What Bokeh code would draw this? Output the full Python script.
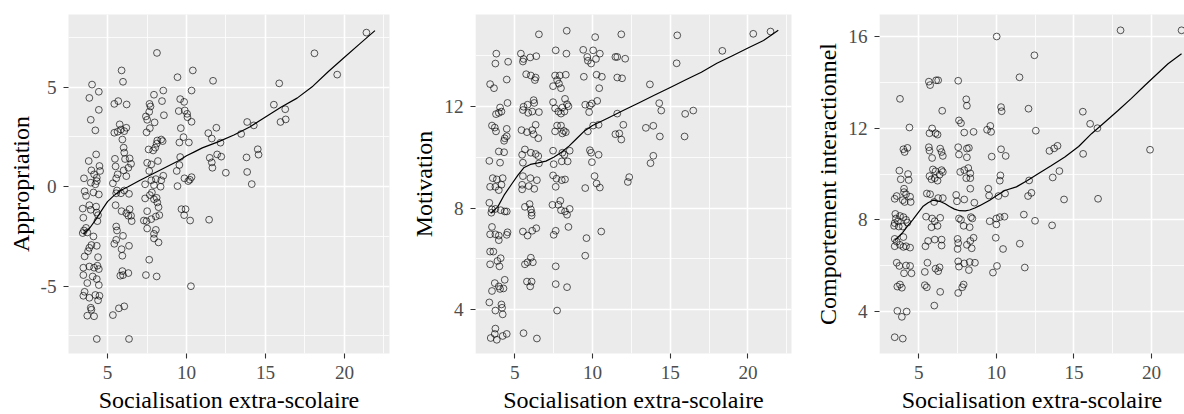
from bokeh.plotting import figure
from bokeh.layouts import row
from bokeh.models import Range1d, SingleIntervalTicker
from bokeh.embed import file_html
from bokeh.resources import INLINE

FONT = "Liberation Serif"
X_TITLE = "Socialisation extra-scolaire"

# ---------------- Panel 1 : Appropriation ----------------
x1 = [8.13, 5.89, 5.98, 9.43, 10.40, 11.68, 4.02, 3.85, 4.45, 4.45, 3.94, 4.23, 5.43, 5.68, 6.21, 7.66, 7.72, 7.94,
      8.45, 8.53, 8.57, 7.64, 7.43, 7.51, 7.98, 7.68, 7.47, 9.60, 9.85, 9.51, 9.89, 10.04, 10.06, 10.32, 10.32, 9.64,
      11.38, 11.60, 11.89, 5.77, 5.64, 5.85, 6.06, 6.19, 5.43, 5.94, 6.02, 6.06, 5.47, 6.11, 6.40, 6.49, 6.32, 6.02,
      5.51, 6.19, 5.64, 5.55, 5.34, 4.28, 3.81, 4.49, 3.98, 4.15, 4.53, 4.32, 3.51, 3.94, 4.23, 4.32, 8.15, 8.40,
      8.49, 8.11, 7.60, 7.89, 8.02, 7.51, 7.77, 8.19, 7.64, 7.77, 8.06, 8.40, 8.53, 7.94, 7.38, 9.38, 9.55, 9.60,
      9.81, 9.55, 10.15, 9.87, 10.21, 10.32, 10.11, 9.43, 11.47, 11.60, 11.64, 11.94,
      12.15, 12.20, 12.49, 13.46, 13.84, 14.26, 13.80, 13.84, 14.13, 14.51, 14.56, 15.53, 15.87, 15.95, 16.28, 16.25,
      18.10, 19.54, 21.39,
      3.55, 3.64, 4.11, 4.45, 3.43, 3.85, 3.94, 4.28, 4.32, 4.40, 3.47, 4.36, 3.64, 3.51, 3.72, 3.43, 4.11, 3.98,
      3.85, 4.32, 3.77, 3.55, 4.40, 3.47, 3.85, 4.15, 4.36, 4.45, 3.47, 4.06, 4.32, 3.72, 4.45, 3.55, 3.47, 4.23,
      4.49, 3.85, 4.40, 3.94, 3.98, 3.72, 4.15, 4.32, 6.36, 5.34, 5.72, 6.06, 5.55, 5.60, 5.85, 6.06, 6.36, 5.51,
      5.89, 6.19, 6.40, 6.49, 6.32, 6.53, 5.55, 5.60, 5.98, 5.55, 5.43, 6.36, 5.89, 5.94, 5.81, 5.98, 6.32, 5.94,
      7.43, 8.11, 7.64, 7.38, 7.68, 7.81, 7.94, 8.11, 8.15, 8.23, 7.51, 7.77, 7.47, 7.30, 8.06, 8.28, 7.51, 8.06,
      7.94, 7.94, 8.23, 8.36, 9.68, 9.94, 9.85, 10.23, 11.43, 10.28]
y1 = [6.72, 5.84, 5.27, 5.50, 5.84, 5.32, 5.13, 4.46, 4.77, 3.86, 3.36, 2.83, 4.16, 4.30, 4.13, 4.16, 4.03, 4.62,
      4.30, 4.83, 3.59, 3.76, 3.53, 3.36, 3.23, 2.94, 2.73, 4.40, 4.26, 3.80, 3.83, 3.66, 3.49, 3.26, 4.83, 2.94,
      2.69, 2.42, 2.96, 3.13, 2.76, 2.87, 2.79, 2.96, 2.71, 2.37, 1.96, 1.71, 1.40, 1.39, 1.42, 1.15, 0.95, 0.82,
      1.02, 0.53, 0.62, 0.42, 0.17, 1.62, 1.29, 1.04, 0.82, 0.62, 0.79, 0.45, 0.42, 0.20, 0.12, 0.28, 2.32, 2.37,
      2.29, 2.16, 1.87, 1.82, 1.96, 1.20, 1.12, 1.29, 0.79, 0.32, 0.38, 0.32, 0.55, 0.08, 0.12, 0.79, 1.09, 1.49,
      2.49, 2.22, 2.22, 0.42, 0.35, 0.48, 0.28, 0.03, 1.45, 1.22, 0.95, 1.62,
      2.21, 1.51, 0.70, 2.65, 3.25, 3.08, 1.47, 0.74, 0.13, 1.88, 1.61, 4.12, 5.19, 3.25, 3.38, 3.89,
      6.70, 5.63, 7.74,
      -0.23, -0.46, -0.29, -0.39, -1.10, -0.93, -1.16, -1.00, -1.30, -1.43, -1.56, -1.73, -2.07, -2.20, -2.30, -2.33,
      -2.50, -2.93, -3.07, -2.97, -3.24, -3.50, -3.54, -4.07, -4.01, -4.07, -3.97, -4.14, -4.44, -4.51, -4.64, -4.84,
      -4.94, -5.28, -5.48, -5.44, -5.48, -5.58, -5.71, -6.08, -6.18, -6.48, -6.51, -7.65, -7.65, -6.45, -6.11, -6.01,
      -0.33, -0.19, -0.33, -0.19, -0.36, -0.93, -1.23, -1.33, -1.13, -1.46, -1.46, -1.73, -2.00, -2.20, -2.47, -2.67,
      -2.87, -2.97, -3.14, -3.47, -4.47, -4.44, -4.34, -4.24, -4.44, -4.51, -3.67, -0.59, -0.42, -0.29, -0.63, -0.56,
      -0.79, -1.03, -1.23, -1.63, -1.73, -1.70, -1.50, -1.43, -2.10, -2.17, -2.37, -2.60, -2.80, 0.00, -1.13, -1.13,
      -1.43, -1.70, -1.66, -5.00]
lx1 = [3.47, 3.9, 4.3, 4.7, 5.0, 5.4, 5.8, 6.3, 7.0, 7.5, 8.0, 8.5, 9.0, 9.5, 10.0, 10.5, 11.0, 11.5, 12.0, 13.0,
       14.0, 15.0, 16.0, 17.0, 18.0, 19.0, 20.0, 21.0, 21.93]
ly1 = [-2.38, -2.05, -1.6, -1.1, -0.75, -0.45, -0.2, 0.0, 0.3, 0.5, 0.7, 0.9, 1.1, 1.3, 1.55, 1.75, 1.95, 2.1, 2.25,
       2.6, 3.0, 3.5, 4.0, 4.45, 5.05, 5.8, 6.5, 7.2, 7.84]

# ---------------- Panel 2 : Motivation ----------------
x2 = [6.55, 8.34, 10.17, 11.85, 3.81, 3.75, 4.57, 5.39, 5.56, 5.52, 5.99, 6.38, 7.63, 8.32, 9.40, 10.04, 9.66, 9.70,
      9.91, 10.22, 10.47, 11.47, 11.59, 3.41, 3.66, 4.48, 5.73, 6.03, 6.34, 6.29, 7.59, 7.89, 8.28, 7.72, 7.84, 7.46,
      7.97, 9.44, 10.26, 10.60, 10.43, 11.59, 11.90, 4.53, 4.05, 4.14, 3.79, 3.97, 5.56, 5.82, 5.52, 5.86, 6.21, 6.25,
      6.12, 6.55, 7.46, 7.59, 7.80, 7.97, 8.06, 8.23, 8.36, 8.45, 8.19, 9.53, 9.83, 9.96, 10.30, 9.78, 11.59, 3.53,
      3.71, 3.79, 4.48, 4.48, 4.35, 4.31, 5.43, 5.78, 6.12, 6.21, 6.34, 6.51, 7.72, 7.97, 7.59, 8.15, 8.06, 8.28,
      9.70, 10.04, 10.39, 11.47, 11.72, 11.85, 11.98, 3.97, 4.31, 3.36, 4.05, 5.65, 5.47, 5.52, 6.03, 6.34, 6.51,
      6.55, 7.46, 7.50, 8.06, 8.19, 8.02, 8.53, 8.40, 9.83, 9.91, 10.39, 9.96, 3.58, 3.84, 4.22, 3.41, 3.75, 4.14,
      5.52, 6.00, 6.42, 5.47, 5.90, 7.46, 7.68, 8.02, 8.23, 7.63, 10.13, 10.26, 10.47, 9.53,
      3.97, 5.47, 6.25, 3.36, 3.53, 3.75, 4.09, 4.35, 4.48, 3.49, 5.65, 5.95, 6.03, 6.08, 6.08, 7.42, 7.80, 7.93,
      7.97, 8.23, 8.36, 8.53, 3.53, 3.41, 3.75, 3.97, 3.97, 4.53, 4.48, 5.52, 5.82, 6.12, 6.38, 7.63, 7.50, 8.45,
      9.61, 10.56, 3.41, 3.62, 4.09, 3.88, 3.41, 4.01, 6.03, 5.65, 5.82, 6.16, 7.63, 9.53, 3.71, 4.35, 3.53, 3.97,
      4.05, 4.27, 5.78, 6.08, 5.99, 7.63, 8.36, 3.36, 4.14, 4.18, 4.22, 3.75, 7.72, 3.75, 3.71, 3.45, 3.84, 4.22,
      4.48, 5.56, 6.42,
      15.45, 15.41, 18.35, 20.34, 21.45, 13.69, 14.29, 14.42, 15.96, 16.48, 13.43, 13.91, 14.33, 15.92, 13.73,
      13.91, 12.36, 12.27, 12.10]
y2 = [14.84, 14.98, 14.73, 14.84, 14.08, 13.69, 13.76, 14.08, 13.87, 13.77, 13.93, 13.98, 14.21, 14.08, 14.23, 14.21,
      13.95, 13.80, 13.69, 13.87, 14.08, 13.95, 13.95, 12.88, 12.72, 13.06, 13.27, 13.22, 13.14, 13.04, 13.22, 13.22,
      13.25, 13.04, 12.90, 12.80, 12.72, 13.17, 13.25, 13.17, 12.72, 13.14, 13.11, 12.14, 11.96, 11.80, 11.70, 11.75,
      11.99, 12.07, 11.86, 11.75, 12.25, 12.14, 11.80, 11.78, 12.17, 11.93, 11.80, 11.72, 11.96, 12.30, 12.09, 12.01,
      11.80, 12.07, 12.04, 12.12, 12.22, 11.78, 11.72, 11.25, 11.17, 11.02, 11.12, 10.83, 10.75, 10.65, 11.07, 10.99,
      11.07, 10.91, 11.28, 10.75, 11.25, 11.25, 11.02, 11.04, 10.94, 10.99, 11.02, 11.25, 11.28, 10.91, 10.94, 10.70,
      11.28, 10.23, 10.20, 9.86, 9.79, 10.31, 10.10, 9.79, 10.18, 10.13, 10.05, 9.76, 10.26, 9.73, 10.18, 10.10, 9.84,
      10.26, 9.84, 10.28, 10.18, 10.10, 9.81, 9.18, 9.13, 9.18, 8.84, 8.84, 8.92, 9.26, 9.18, 9.10, 8.92, 8.87, 9.29,
      9.16, 9.10, 9.13, 8.84, 9.26, 8.97, 8.81, 8.79,
      8.71, 8.74, 8.76, 8.21, 7.95, 7.97, 7.92, 7.87, 7.87, 7.82, 8.05, 8.16, 7.95, 7.82, 7.71, 8.13, 8.13, 8.29,
      7.92, 7.87, 7.74, 7.97, 7.26, 6.97, 6.97, 6.92, 6.74, 7.05, 6.95, 7.08, 6.92, 7.11, 7.21, 7.11, 6.95, 7.26,
      6.82, 7.08, 6.29, 6.29, 6.03, 5.92, 5.79, 5.71, 6.05, 5.79, 5.87, 5.87, 5.71, 6.13, 5.05, 5.18, 4.74, 4.92,
      4.82, 4.84, 5.11, 5.11, 4.92, 5.01, 4.89, 4.29, 4.21, 4.08, 3.82, 3.97, 3.97, 3.26, 3.05, 2.89, 2.82, 2.97,
      3.05, 3.08, 2.87,
      14.80, 13.70, 14.19, 14.86, 14.95, 12.87, 12.13, 11.84, 11.71, 11.84, 11.16, 11.24, 10.82, 10.82, 9.77,
      10.06, 9.22, 9.03, 13.88]
lx2 = [3.45, 3.9, 4.3, 4.8, 5.2, 5.6, 6.0, 6.5, 7.0, 7.5, 8.0, 8.5, 9.0, 9.5, 10.0, 11.0, 12.0, 13.0, 14.0, 15.0,
       16.0, 17.0, 18.0, 19.0, 20.0, 21.0, 21.95]
ly2 = [7.8, 8.05, 8.5, 8.95, 9.3, 9.6, 9.72, 9.78, 9.85, 10.0, 10.2, 10.45, 10.75, 11.05, 11.25, 11.55, 11.85, 12.15,
       12.45, 12.75, 13.05, 13.35, 13.7, 14.0, 14.3, 14.6, 15.0]

# ---------------- Panel 3 : Comportement interactionnel ----------------
x3 = [10.02, 11.49, 5.65, 5.73, 6.12, 6.25, 7.54, 3.79, 8.06, 8.10, 6.51, 10.30, 10.34, 12.07, 4.40, 7.59, 7.72, 5.86,
      5.69, 6.08, 6.21, 7.93, 8.53, 9.40, 9.61, 9.66, 4.01, 4.27, 4.09, 5.65, 5.69, 6.38, 6.47, 6.55, 5.86, 7.54,
      8.10, 8.23, 7.59, 8.10, 9.70, 10.30, 10.60, 3.75, 4.31, 3.84, 4.35, 4.05, 5.91, 6.08, 6.47, 6.55, 5.69, 6.03,
      6.34, 5.82, 6.21, 7.67, 7.93, 8.19, 8.32, 8.06, 8.32, 10.26, 10.22, 8.32, 9.48,
      18.0, 21.93, 12.45, 12.54, 15.57, 16.04, 16.51, 19.9, 15.59, 13.42, 13.72, 13.94, 14.06, 13.63, 14.36, 16.55,
      12.11, 12.26, 12.04, 12.49, 13.59, 11.83,
      3.45, 3.58, 4.05, 4.18, 4.44, 3.97, 4.09, 4.48, 5.52, 5.73, 5.99, 6.25, 6.55, 7.41, 7.46, 7.93, 8.58, 9.53,
      10.13, 10.56, 3.49, 3.53, 3.45, 3.66, 3.79, 4.01, 4.18, 3.71, 3.97, 3.41, 4.27, 5.47, 5.86, 6.03, 6.38, 5.82,
      6.21, 7.59, 7.72, 7.89, 8.36, 8.45, 8.28, 9.57, 10.00, 10.22, 10.52, 10.00, 11.77, 3.45, 3.58, 3.79, 3.45,
      4.01, 4.18, 4.44, 4.01, 5.43, 5.60, 6.03, 6.47, 6.47, 7.50, 7.54, 7.50, 8.10, 8.32, 8.53, 8.41, 9.96, 10.43,
      11.51, 3.58, 3.75, 4.18, 4.44, 4.53, 4.05, 5.56, 5.39, 6.08, 6.25, 6.34, 7.54, 7.59, 7.93, 8.28, 8.62, 8.23,
      9.78, 10.04, 3.62, 3.79, 3.91, 5.39, 5.52, 6.38, 6.00, 7.54, 7.89, 7.80, 3.62, 4.22, 3.91, 3.45, 3.97]
y3 = [16.0, 14.22, 14.03, 13.88, 14.09, 14.09, 14.07, 13.28, 13.26, 12.98, 12.76, 12.92, 12.74, 12.85, 12.03, 12.34,
      12.22, 11.99, 11.78, 11.78, 11.72, 11.81, 11.84, 11.93, 12.10, 11.84, 11.08, 11.14, 10.96, 11.17, 11.02, 11.11,
      10.96, 10.79, 10.70, 11.17, 11.11, 11.14, 10.85, 10.73, 10.76, 11.08, 10.79, 10.15, 10.00, 9.77, 9.74, 9.36,
      10.20, 10.12, 10.17, 10.09, 9.91, 9.82, 9.97, 9.77, 9.71, 10.09, 10.17, 10.26, 10.03, 9.82, 9.82, 9.94, 9.71,
      9.36, 9.36,
      16.27, 16.27, 15.18, 11.89, 12.72, 12.19, 12.0, 11.06, 10.88, 11.01, 11.12, 11.23, 10.13, 9.85, 8.89, 8.92,
      9.72, 9.18, 9.04, 7.96, 7.76, 5.92,
      8.92, 9.04, 9.21, 9.12, 9.01, 8.86, 8.78, 8.78, 9.15, 9.12, 8.78, 8.95, 8.95, 9.09, 8.81, 8.89, 8.75, 9.06,
      9.04, 9.15, 8.26, 8.06, 7.86, 7.94, 8.17, 8.12, 8.00, 7.71, 7.71, 7.74, 7.88, 8.14, 8.06, 7.94, 8.09, 7.68,
      7.74, 8.06, 8.00, 7.74, 8.12, 8.06, 7.68, 7.94, 8.06, 8.12, 8.14, 7.80, 8.23, 7.17, 7.05, 6.91, 6.85,
      6.82, 6.85, 6.79, 7.25, 6.85, 7.08, 7.14, 7.14, 6.88, 7.17, 6.99, 6.73, 6.91, 7.08, 7.22, 6.76, 7.22, 6.73,
      6.96, 6.13, 5.99, 6.01, 5.99, 5.67, 5.67, 6.13, 5.73, 5.87, 5.76, 5.93, 6.19, 5.96, 6.10, 6.16, 6.13, 5.81,
      5.70, 5.99, 5.09, 5.18, 5.04, 5.15, 5.06, 4.86, 4.26, 4.81, 5.18, 5.06, 4.03, 4.00, 3.77, 2.88, 2.82]
lx3 = [3.45, 3.97, 4.3, 4.61, 5.0, 5.26, 5.6, 5.91, 6.34, 6.7, 6.98, 7.3, 7.63, 8.0, 8.28, 8.61, 8.92, 9.57, 10.0,
       10.54, 11.29, 12.0, 12.69, 13.5, 14.41, 15.3, 16.13, 17.0, 17.84, 18.7, 19.56, 20.3, 21.06, 21.93]
ly3 = [7.1, 7.45, 7.75, 8.0, 8.35, 8.58, 8.75, 8.86, 8.81, 8.7, 8.58, 8.47, 8.40, 8.39, 8.43, 8.52, 8.62, 8.86, 9.05,
       9.28, 9.44, 9.72, 10.01, 10.35, 10.74, 11.2, 11.76, 12.27, 12.77, 13.3, 13.86, 14.33, 14.81, 15.25]


def panel(xs, ys, lx, ly, ylabel, xr, yr, yint, frame_w, border_l, border_r):
    p = figure(frame_width=frame_w, frame_height=339,
               x_range=Range1d(*xr), y_range=Range1d(*yr),
               output_backend="svg", toolbar_location=None,
               min_border_left=border_l, min_border_right=border_r,
               min_border_top=14, min_border_bottom=61)
    p.background_fill_color = "#EBEBEB"
    p.border_fill_color = "white"
    p.outline_line_color = None

    xt = SingleIntervalTicker(interval=5, num_minor_ticks=2)
    yt = SingleIntervalTicker(interval=yint, num_minor_ticks=2)
    p.xaxis.ticker = xt
    p.yaxis.ticker = yt
    p.xgrid.ticker = xt
    p.ygrid.ticker = yt
    for g in (p.xgrid, p.ygrid):
        g.grid_line_color = "white"
        g.grid_line_width = 1.6
        g.minor_grid_line_color = "white"
        g.minor_grid_line_width = 0.8

    for ax in (p.xaxis, p.yaxis):
        ax.axis_line_color = None
        ax.major_tick_line_color = "#333333"
        ax.major_tick_line_width = 1.1
        ax.major_tick_out = 5
        ax.major_tick_in = 0
        ax.minor_tick_line_color = None
        ax.major_label_text_font = FONT
        ax.major_label_text_font_size = "19.2px"
        ax.major_label_text_color = "#4D4D4D"
        ax.major_label_standoff = 7
        ax.axis_label_text_font = FONT
        ax.axis_label_text_font_size = "24px"
        ax.axis_label_text_font_style = "normal"
        ax.axis_label_text_color = "black"
    p.xaxis.axis_label = X_TITLE
    p.yaxis.axis_label = ylabel
    p.xaxis.axis_label_standoff = 5
    p.yaxis.axis_label_standoff = 4
    p.yaxis.major_label_overrides = {-5: "-5"}

    p.scatter(xs, ys, marker="circle", size=6.8, fill_color=None,
              line_color="black", line_width=0.65)
    p.line(lx, ly, line_color="black", line_width=1.2)
    return p


p1 = panel(x1, y1, lx1, ly1, "Appropriation", (2.53, 22.85), (-8.38, 8.65), 5, 321, 68, 6)
p2 = panel(x2, y2, lx2, ly2, "Motivation", (2.47, 22.80), (2.28, 15.62), 4, 316, 80, 4)
p3 = panel(x3, y3, lx3, ly3, "Comportement interactionnel", (2.47, 22.12), (2.17, 16.96), 4, 305, 84, 0)

layout = row(p1, p2, p3)
open("out.html", "w").write(file_html(layout, INLINE))
